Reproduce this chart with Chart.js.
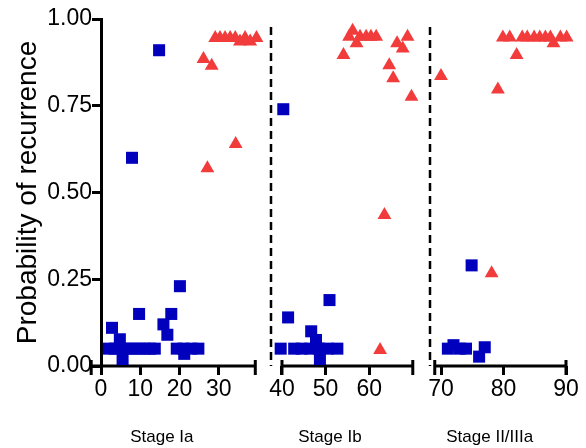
<!DOCTYPE html>
<html>
<head>
<meta charset="utf-8">
<script src="https://cdn.jsdelivr.net/npm/chart.js@4.4.1/dist/chart.umd.min.js"></script>
<style>
  html, body { margin: 0; padding: 0; background: #fff; }
  #wrap { width: 586px; height: 448px; }
</style>
</head>
<body>
<div id="wrap"><canvas id="chart" width="586" height="448"></canvas></div>
<script>
// stages + axis ticks
const stageNames = ['Stage Ia', 'Stage Ib', 'Stage II/IIIa'];
const stageTicks = [[0, 10, 20, 30], [40, 50, 60], [70, 80, 90]];
const stageSpans = [[-2.5, 39.3], [40, 70], [69, 90]];
const yTicks = [0, 0.25, 0.5, 0.75, 1];

// blue squares [patient, probability]
const lowIa = [
  [14.8, 0.91], [7.9, 0.60], [20.1, 0.23], [9.7, 0.15], [17.9, 0.15],
  [2.8, 0.11], [15.9, 0.12], [16.9, 0.09], [4.8, 0.077], [5.5, 0.02], [21.2, 0.035],
  [2, 0.05], [3.5, 0.05], [5, 0.05], [6.5, 0.05], [8, 0.05], [9.5, 0.05],
  [11, 0.05], [12.5, 0.05], [13.7, 0.05], [19.3, 0.05], [21, 0.05], [23, 0.05], [24.8, 0.05]
];
const lowIb = [
  [40.3, 0.74], [50.9, 0.19], [41.4, 0.14], [46.7, 0.10], [47.8, 0.075], [48.7, 0.02],
  [39.7, 0.05], [42.8, 0.05], [44.5, 0.05], [46.5, 0.05], [48.5, 0.05], [50.5, 0.05], [52.7, 0.05]
];
const lowIII = [
  [74.9, 0.29], [71.1, 0.05], [72, 0.06], [73, 0.05], [74, 0.05], [76.1, 0.027], [77, 0.054]
];

// red triangles [patient, probability]
const highIa = [
  [26.1, 0.885], [28.2, 0.865], [27.1, 0.57], [34.3, 0.64],
  [29.1, 0.945], [30.3, 0.945], [31.6, 0.945], [32.9, 0.945], [34.2, 0.945],
  [35.4, 0.935], [36.7, 0.945], [38.0, 0.935], [39.6, 0.945]
];
const highIb = [
  [63.5, 0.435], [62.5, 0.046], [54.1, 0.896], [56.2, 0.966], [57.1, 0.93],
  [55.4, 0.949], [57.9, 0.949], [59.3, 0.949], [60.4, 0.949], [61.6, 0.949],
  [66.4, 0.93], [67.7, 0.915], [68.8, 0.949], [64.6, 0.867], [65.5, 0.829], [69.7, 0.776]
];
const highIII = [
  [70, 0.836], [79.1, 0.797], [82.1, 0.896], [78.1, 0.267], [88, 0.93],
  [79.9, 0.947], [81, 0.947], [83, 0.947], [83.8, 0.947], [84.9, 0.947],
  [85.8, 0.947], [86.7, 0.947], [87.5, 0.947], [89.1, 0.947], [90.1, 0.947]
];

const BLUE = '#0000bd', RED = '#f23c3c';
const FONT = '"Liberation Sans", Arial, sans-serif';
const xIds = ['x1', 'x2', 'x3'];
const lows = [lowIa, lowIb, lowIII];
const highs = [highIa, highIb, highIII];
// each piece of the broken x axis: visible window + share of the width
const frames = [
  {min: 0, max: 43.3, weight: 170},
  {min: 37.48, max: 73.95, weight: 159},
  {min: 68.24, max: 90.64, weight: 140}
];

const pts = arr => arr.map(([x, y]) => ({x, y}));

const datasets = [];
xIds.forEach((id, i) => {
  datasets.push({
    label: 'low ' + stageNames[i], data: pts(lows[i]), xAxisID: id,
    pointStyle: 'rect', pointRadius: 8.5, backgroundColor: BLUE, borderWidth: 0, clip: false
  });
  datasets.push({
    label: 'high ' + stageNames[i], data: pts(highs[i]), xAxisID: id,
    pointStyle: 'triangle', pointRadius: 8, backgroundColor: RED, borderWidth: 0, clip: false
  });
});

const scales = {
  y: {
    min: 0, max: 1,
    border: {display: true, color: '#000', width: 3},
    grid: {drawOnChartArea: false, tickLength: 9, color: '#000', lineWidth: 3},
    ticks: {color: '#000', padding: 0, font: {family: FONT, size: 23}, callback: v => v.toFixed(2)},
    afterBuildTicks: s => { s.ticks = yTicks.map(v => ({value: v})); },
    title: {display: true, text: 'Probability of recurrence', color: '#000',
            font: {family: FONT, size: 28}, padding: {top: 11, bottom: 0}},
    afterFit: s => { s.width = 101; }
  }
};
xIds.forEach((id, i) => {
  scales[id] = {
    type: 'linear', position: 'bottom', stack: 'stages', stackWeight: frames[i].weight,
    min: frames[i].min, max: frames[i].max,
    border: {display: false},
    grid: {drawOnChartArea: false, tickLength: 9, color: '#000', lineWidth: 3},
    ticks: {autoSkip: false, maxRotation: 0, padding: 1, color: '#000', font: {family: FONT, size: 23}},
    afterBuildTicks: s => { s.ticks = stageTicks[i].map(v => ({value: v})); },
    afterFit: s => { s.height = 82; }
  };
});

// axis pieces with end caps, dashed separators and stage names
const brokenAxis = {
  id: 'brokenAxis',
  beforeDatasetsDraw(chart, args, opts) {
    const ctx = chart.ctx, area = chart.chartArea;
    ctx.save();
    ctx.strokeStyle = '#000';
    xIds.forEach((id, i) => {
      const s = chart.scales[id];
      const xa = s.getPixelForValue(stageSpans[i][0]);
      const xb = s.getPixelForValue(stageSpans[i][1]);
      const y = s.top;
      ctx.lineWidth = 3;
      ctx.setLineDash([]);
      ctx.beginPath();
      ctx.moveTo(xa, y); ctx.lineTo(xb, y);
      ctx.moveTo(xa, y - 6); ctx.lineTo(xa, y + 9);
      ctx.moveTo(xb, y - 6); ctx.lineTo(xb, y + 9);
      ctx.stroke();
      if (i > 0) {
        ctx.lineWidth = 2.5;
        ctx.setLineDash([8, 5]);
        ctx.beginPath();
        ctx.moveTo(s.left, area.top + 8);
        ctx.lineTo(s.left, area.bottom);
        ctx.stroke();
      }
      ctx.fillStyle = '#000';
      ctx.font = '17px ' + FONT;
      ctx.textAlign = 'center';
      ctx.textBaseline = 'middle';
      ctx.fillText(stageNames[i], s.getPixelForValue(opts.labelAt[i]), s.top + 71);
    });
    ctx.restore();
  }
};

new Chart(document.getElementById('chart'), {
  type: 'scatter',
  data: {datasets},
  options: {
    responsive: false,
    animation: false,
    layout: {padding: {left: 0, top: 19, right: 16, bottom: 0}},
    plugins: {
      legend: {display: false},
      tooltip: {enabled: false},
      brokenAxis: {labelAt: [15.5, 51, 77.8]}
    },
    scales
  },
  plugins: [brokenAxis]
});
</script>
</body>
</html>
